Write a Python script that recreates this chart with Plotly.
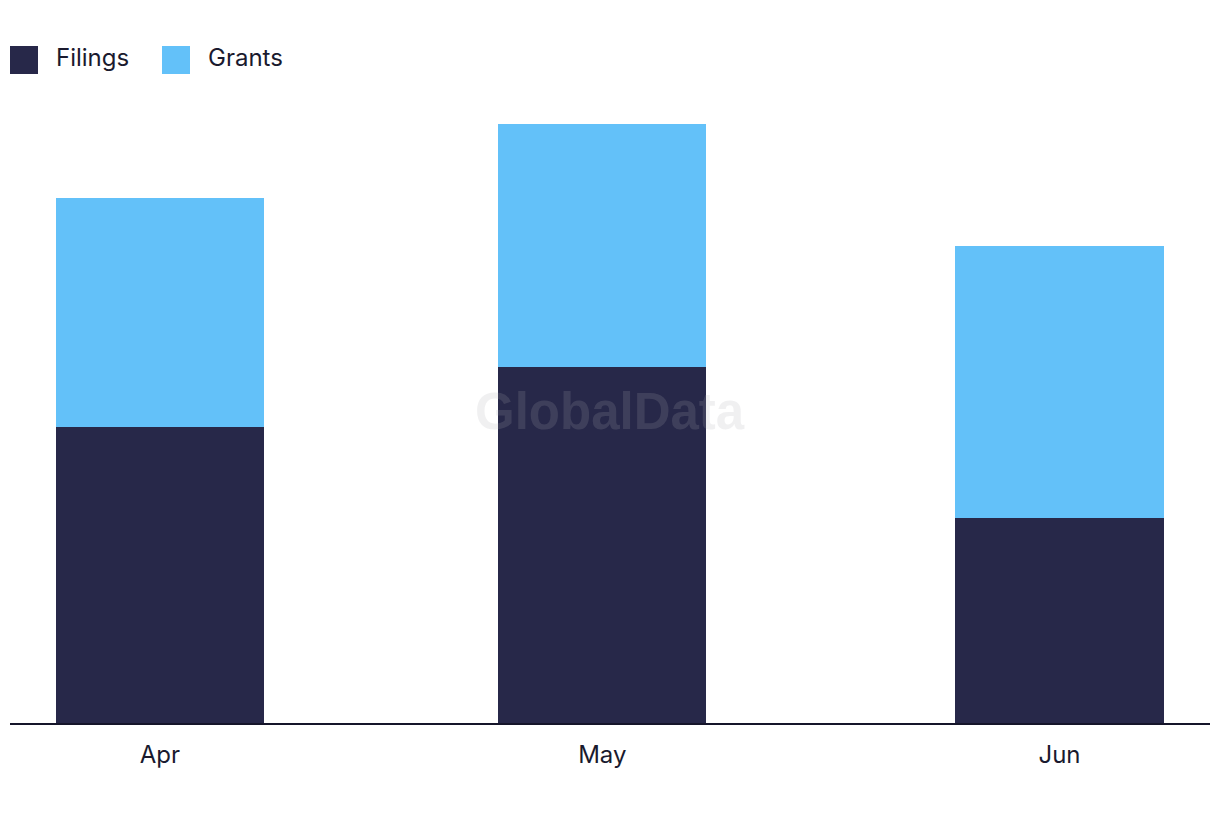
import plotly.graph_objects as go

months = ["2024-04-01", "2024-05-01", "2024-06-01"]
tick_labels = ["Apr", "May", "Jun"]
filings = [40, 48.1, 27.7]
grants = [31, 32.9, 36.8]

DARK = "#272849"
LIGHT = "#63C1F9"
FONT = "Inter, Lato, Arial, sans-serif"

W, H = 1220, 822
L, R, T, B = 10, 10, 92, 99
pw, ph = W - L - R, H - T - B

day_ms = 86400000
bar_width = 14.12 * day_ms

fig = go.Figure()
fig.add_trace(go.Bar(x=months, y=filings, name="Filings", marker_color=DARK,
                     width=[bar_width] * 3, marker_line_width=0))
fig.add_trace(go.Bar(x=months, y=grants, name="Grants", marker_color=LIGHT,
                     width=[bar_width] * 3, marker_line_width=0))

def px_x(p):
    return (p - L) / pw

def px_y(p):
    return (H - B - p) / ph

shapes = []
annotations = []
for sx, tx, label, col in [(10, 54, "Filings", DARK), (162, 206, "Grants", LIGHT)]:
    shapes.append(dict(type="rect", xref="paper", yref="paper",
                       x0=px_x(sx), x1=px_x(sx + 28), y0=px_y(74), y1=px_y(46),
                       fillcolor=col, line_width=0))
    annotations.append(dict(text=label, xref="paper", yref="paper",
                            x=px_x(tx), y=px_y(58), xanchor="left", yanchor="middle",
                            showarrow=False, font=dict(family=FONT, size=24, color="#1a1a2e")))

annotations.append(dict(text="<b>GlobalData</b>", xref="paper", yref="paper",
                        x=px_x(610), y=px_y(411), xanchor="center", yanchor="middle",
                        showarrow=False,
                        font=dict(family="Liberation Sans, Arial, sans-serif", size=51,
                                  color="rgba(170,170,175,0.18)")))

fig.update_layout(
    width=W, height=H,
    margin=dict(l=L, r=R, t=T, b=B, pad=0),
    barmode="stack",
    showlegend=False,
    plot_bgcolor="white", paper_bgcolor="white",
    shapes=shapes, annotations=annotations,
    xaxis=dict(type="date", range=["2024-03-21 20:00", "2024-06-11 05:00"],
               tickvals=months, ticktext=tick_labels, showgrid=False,
               showline=True, linecolor="#15152a", linewidth=2,
               ticks="", ticklabelstandoff=9,
               tickfont=dict(family=FONT, size=24, color="#1a1a2e"),
               zeroline=False),
    yaxis=dict(range=[0, ph / 7.4], visible=False, showgrid=False, zeroline=False),
)

fig.write_html("out.html")
